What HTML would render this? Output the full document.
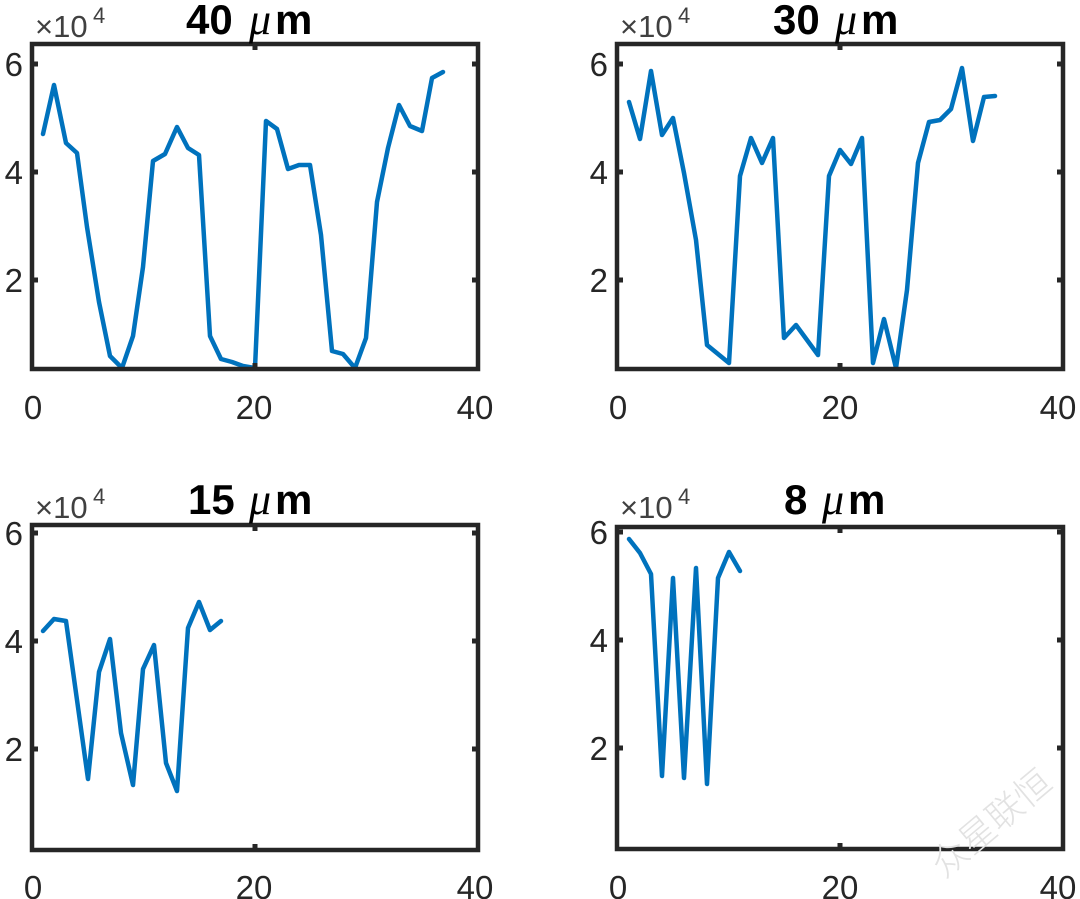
<!DOCTYPE html>
<html><head><meta charset="utf-8"><style>
html,body{margin:0;padding:0;background:#fff;}
svg{display:block;}
text{font-family:"Liberation Sans",Arial,sans-serif;fill:#262626;}
.tk{font-size:33px;}
.tn{font-size:42px;font-weight:bold;fill:#000;}
.mu{font-size:44px;font-style:italic;font-family:"Liberation Serif",serif;fill:#000;}
.ex{font-size:31px;fill:#404040;}
.sp{font-size:22px;fill:#404040;}
.ln{fill:none;stroke:#0072BD;stroke-width:4.5;stroke-linejoin:round;stroke-linecap:round;}
.fr{fill:none;stroke:#262626;stroke-width:4.5;}
.t{stroke:#262626;stroke-width:5;}
</style></head><body>
<svg width="1080" height="899" viewBox="0 0 1080 899" xmlns="http://www.w3.org/2000/svg">
<!-- Panel 1 -->
<g>
<polyline class="ln" points="43,134 54,85 66,143 77,153 87,227 99,302 110,356 122,368 133,336 143,267 153,161 165,154 177,127 188,148 199,155 210,336 221,359 232,362 243,366 255,368 266,121 277,129 288,169 299,165 310,165 321,235 332,351 343,354 355,368 366,338 377,202 388,148 399,105 410,126 422,131 432,78 443,72"/>
<rect class="fr" x="32" y="44" width="446" height="325"/>
<line class="t" x1="32" y1="64" x2="38" y2="64"/><line class="t" x1="32" y1="172" x2="38" y2="172"/><line class="t" x1="32" y1="280" x2="38" y2="280"/>
<line class="t" x1="478" y1="64" x2="472" y2="64"/><line class="t" x1="478" y1="172" x2="472" y2="172"/><line class="t" x1="478" y1="280" x2="472" y2="280"/>
<line class="t" x1="255" y1="44" x2="255" y2="50"/><line class="t" x1="255" y1="369" x2="255" y2="363"/>
<text class="tk" x="23" y="76" text-anchor="end">6</text>
<text class="tk" x="23" y="184" text-anchor="end">4</text>
<text class="tk" x="23" y="292" text-anchor="end">2</text>
<text class="tk" x="33" y="419" text-anchor="middle">0</text>
<text class="tk" x="254" y="419" text-anchor="middle">20</text>
<text class="tk" x="475" y="419" text-anchor="middle">40</text>
<text class="ex" x="35" y="37">×10</text><text class="sp" x="93" y="23">4</text>
<text class="tn" x="186" y="34">40</text>
<text class="mu" x="249" y="34">μ</text>
<text class="tn" x="275" y="34">m</text>
</g>
<!-- Panel 2 -->
<g>
<polyline class="ln" points="629,102 640,139 651,71 662,135 673,118 684,173 696,240 707,345 729,363 740,176 751,138 762,163 773,138 784,338 796,325 807,340 818,355 829,176 840,150 851,164 862,138 873,363 884,319 896,368 907,290 918,163 929,122 940,120 951,109 962,68 973,141 984,97 995,96"/>
<rect class="fr" x="617" y="44" width="446" height="325"/>
<line class="t" x1="617" y1="64" x2="623" y2="64"/><line class="t" x1="617" y1="172" x2="623" y2="172"/><line class="t" x1="617" y1="280" x2="623" y2="280"/>
<line class="t" x1="1063" y1="64" x2="1057" y2="64"/><line class="t" x1="1063" y1="172" x2="1057" y2="172"/><line class="t" x1="1063" y1="280" x2="1057" y2="280"/>
<line class="t" x1="840" y1="44" x2="840" y2="50"/><line class="t" x1="840" y1="369" x2="840" y2="363"/>
<text class="tk" x="608" y="76" text-anchor="end">6</text>
<text class="tk" x="608" y="184" text-anchor="end">4</text>
<text class="tk" x="608" y="292" text-anchor="end">2</text>
<text class="tk" x="618" y="419" text-anchor="middle">0</text>
<text class="tk" x="840" y="419" text-anchor="middle">20</text>
<text class="tk" x="1058" y="419" text-anchor="middle">40</text>
<text class="ex" x="620" y="37">×10</text><text class="sp" x="678" y="23">4</text>
<text class="tn" x="773" y="34">30</text>
<text class="mu" x="835" y="34">μ</text>
<text class="tn" x="861" y="34">m</text>
</g>
<!-- Panel 3 -->
<g>
<polyline class="ln" points="43,631 54,619 66,621 77,700 88,779 99,672 110,639 121,733 133,785 143,669 154,645 166,763 177,791 188,628 199,602 210,630 221,621"/>
<rect class="fr" x="32" y="525" width="446" height="325"/>
<line class="t" x1="32" y1="533" x2="38" y2="533"/><line class="t" x1="32" y1="641" x2="38" y2="641"/><line class="t" x1="32" y1="749" x2="38" y2="749"/>
<line class="t" x1="478" y1="533" x2="472" y2="533"/><line class="t" x1="478" y1="641" x2="472" y2="641"/><line class="t" x1="478" y1="749" x2="472" y2="749"/>
<line class="t" x1="255" y1="525" x2="255" y2="531"/><line class="t" x1="255" y1="850" x2="255" y2="844"/>
<text class="tk" x="23" y="545" text-anchor="end">6</text>
<text class="tk" x="23" y="653" text-anchor="end">4</text>
<text class="tk" x="23" y="761" text-anchor="end">2</text>
<text class="tk" x="33" y="899" text-anchor="middle">0</text>
<text class="tk" x="254" y="899" text-anchor="middle">20</text>
<text class="tk" x="475" y="899" text-anchor="middle">40</text>
<text class="ex" x="35" y="518">×10</text><text class="sp" x="93" y="504">4</text>
<text class="tn" x="188" y="514">15</text>
<text class="mu" x="249" y="514">μ</text>
<text class="tn" x="275" y="514">m</text>
</g>
<!-- Panel 4 -->
<g>
<polyline class="ln" points="629,539 640,553 651,574 662,776 673,578 684,778 696,568 707,784 718,578 729,552 740,571"/>
<rect class="fr" x="617" y="527" width="446" height="322"/>
<line class="t" x1="617" y1="532" x2="623" y2="532"/><line class="t" x1="617" y1="640" x2="623" y2="640"/><line class="t" x1="617" y1="748" x2="623" y2="748"/>
<line class="t" x1="1063" y1="532" x2="1057" y2="532"/><line class="t" x1="1063" y1="640" x2="1057" y2="640"/><line class="t" x1="1063" y1="748" x2="1057" y2="748"/>
<line class="t" x1="840" y1="527" x2="840" y2="533"/><line class="t" x1="840" y1="849" x2="840" y2="843"/>
<text class="tk" x="608" y="544" text-anchor="end">6</text>
<text class="tk" x="608" y="652" text-anchor="end">4</text>
<text class="tk" x="608" y="760" text-anchor="end">2</text>
<text class="tk" x="618" y="899" text-anchor="middle">0</text>
<text class="tk" x="840" y="899" text-anchor="middle">20</text>
<text class="tk" x="1058" y="899" text-anchor="middle">40</text>
<text class="ex" x="620" y="518">×10</text><text class="sp" x="678" y="504">4</text>
<text class="tn" x="784" y="514">8</text>
<text class="mu" x="822" y="514">μ</text>
<text class="tn" x="848" y="514">m</text>
</g>
<text x="993" y="835" text-anchor="middle" transform="rotate(-40 993 825)" style="font-family:'Liberation Sans','Noto Sans CJK SC',sans-serif;font-size:36px;font-weight:300;fill:#e2e2e2;">众星联恒</text>
</svg>
</body></html>
